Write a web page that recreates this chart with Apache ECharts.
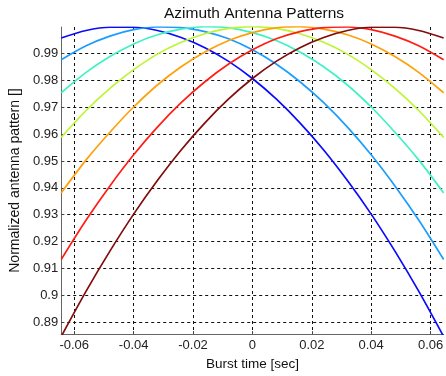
<!DOCTYPE html>
<html>
<head>
    <meta charset="utf-8">
    <title>Azimuth Antenna Patterns</title>
    <script src="https://cdn.jsdelivr.net/npm/echarts@6/dist/echarts.min.js"></script>
    <style>
        html, body { margin: 0; padding: 0; background: #fff; }
    </style>
</head>
<body>
<div id="main" style="width: 446px;height:376px;"></div>
<script type="text/javascript">
    // burst time samples [sec]
    var burstTime = [-0.0644, -0.056, -0.048, -0.040, -0.032, -0.024, -0.016, -0.008, 0,
        0.008, 0.016, 0.024, 0.032, 0.040, 0.048, 0.056, 0.0644];

    // normalized pattern, one array per beam
    var beam1 = [0.9958, 0.9986, 0.9998, 0.9998, 0.9986, 0.9960, 0.9922, 0.9871, 0.9807,
        0.9731, 0.9642, 0.9541, 0.9427, 0.9302, 0.9164, 0.9015, 0.8846];
    var beam2 = [0.9877, 0.9929, 0.9965, 0.9989, 0.9999, 0.9997, 0.9982, 0.9955, 0.9914,
        0.9861, 0.9795, 0.9717, 0.9626, 0.9523, 0.9407, 0.9280, 0.9133];
    var beam3 = [0.9754, 0.9830, 0.9889, 0.9936, 0.9970, 0.9991, 1.0000, 0.9996, 0.9978,
        0.9949, 0.9906, 0.9851, 0.9783, 0.9701, 0.9607, 0.9504, 0.9381];
    var beam4 = [0.9588, 0.9688, 0.9770, 0.9840, 0.9898, 0.9942, 0.9974, 0.9994, 1.0000,
        0.9994, 0.9974, 0.9942, 0.9898, 0.9840, 0.9770, 0.9688, 0.9588];
    var beam5 = [0.9381, 0.9504, 0.9607, 0.9701, 0.9783, 0.9851, 0.9906, 0.9949, 0.9978,
        0.9996, 1.0000, 0.9991, 0.9970, 0.9936, 0.9889, 0.9830, 0.9754];
    var beam6 = [0.9133, 0.9280, 0.9407, 0.9523, 0.9626, 0.9717, 0.9795, 0.9861, 0.9914,
        0.9955, 0.9982, 0.9997, 0.9999, 0.9989, 0.9965, 0.9929, 0.9877];
    var beam7 = [0.8846, 0.9015, 0.9164, 0.9302, 0.9427, 0.9541, 0.9642, 0.9731, 0.9807,
        0.9871, 0.9922, 0.9960, 0.9986, 0.9998, 0.9998, 0.9986, 0.9958];

    var beams = [beam1, beam2, beam3, beam4, beam5, beam6, beam7];
    var colors = ['#0a0aff', '#1a9dff', '#3ff2c4', '#bdf533', '#ffa00a', '#ff1e14', '#800c0c'];

    var font = 'Liberation Sans, Arial, Helvetica, sans-serif';

    var series = [];
    for (var i = 0; i < beams.length; i++) {
        var pts = [];
        for (var j = 0; j < burstTime.length; j++) {
            pts.push([burstTime[j], beams[i][j]]);
        }
        series.push({
            type: 'line',
            data: pts,
            showSymbol: false,
            smooth: 0.3,
            lineStyle: { color: colors[i], width: 1.7 },
            z: 3
        });
    }

    var myChart = echarts.init(document.getElementById('main'));
    var option = {
        animation: false,
        backgroundColor: '#fff',
        title: {
            text: 'Azimuth Antenna Patterns',
            left: 249,
            top: 1,
            textAlign: 'center',
            textStyle: { fontFamily: font, fontSize: 15.5, fontWeight: 'normal', color: '#111' }
        },
        grid: { left: 55, right: 0, top: 27, bottom: 41 },
        xAxis: {
            type: 'value',
            min: -0.0644,
            max: 0.0644,
            splitNumber: 6,
            minInterval: 0.02,
            maxInterval: 0.02,
            name: 'Burst time [sec]',
            nameLocation: 'middle',
            nameGap: 21,
            nameTextStyle: { fontFamily: font, fontSize: 13.5, color: '#111' },
            axisLine: { onZero: false, lineStyle: { color: '#666', width: 1 } },
            axisTick: { show: true, inside: true, length: 3, lineStyle: { color: '#444' } },
            axisLabel: {
                showMinLabel: false, showMaxLabel: false,
                margin: 5,
                fontFamily: font, fontSize: 13, color: '#222'
            },
            splitLine: {
                show: true, showMinLine: false, showMaxLine: false,
                lineStyle: { color: '#111', type: [3, 3], width: 1 }
            }
        },
        yAxis: {
            type: 'value',
            min: 0.8855,
            max: 0.9999,
            splitNumber: 11,
            minInterval: 0.01,
            maxInterval: 0.01,
            name: 'Normalized antenna pattern []',
            nameLocation: 'middle',
            nameGap: 34,
            nameTextStyle: { fontFamily: font, fontSize: 14, color: '#111' },
            axisLine: { show: true, onZero: false, lineStyle: { color: '#666', width: 1 } },
            axisTick: { show: true, inside: true, length: 3, lineStyle: { color: '#444' } },
            axisLabel: {
                showMinLabel: false, showMaxLabel: false,
                margin: 3,
                fontFamily: font, fontSize: 13, color: '#222'
            },
            splitLine: {
                show: true, showMinLine: false, showMaxLine: false,
                lineStyle: { color: '#111', type: [3, 3], width: 1 }
            }
        },
        series: series
    };
    myChart.setOption(option);
</script>
</body>
</html>
